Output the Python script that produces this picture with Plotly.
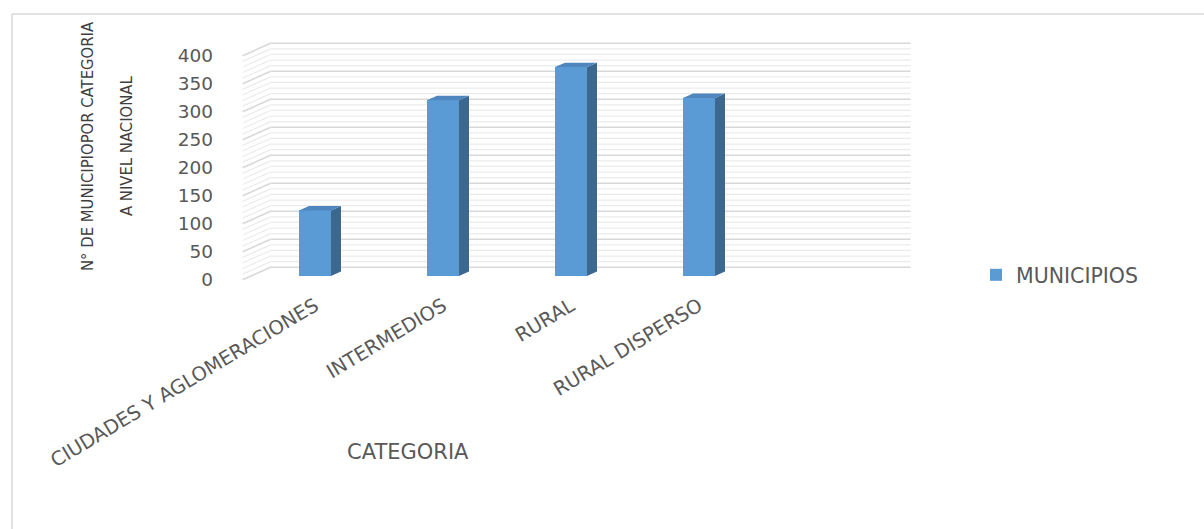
import plotly.graph_objects as go

# ---- data -------------------------------------------------------------
CATEGORIES = ["CIUDADES Y AGLOMERACIONES", "INTERMEDIOS", "RURAL", "RURAL DISPERSO"]
MUNICIPIOS = [117, 314, 373, 318]
SERIES_NAME = "MUNICIPIOS"
Y_TICKS = [0, 50, 100, 150, 200, 250, 300, 350, 400]
Y_MINOR_STEP = 10
X_TITLE = "CATEGORIA"
Y_TITLE_LINES = ["N° DE MUNICIPIOPOR CATEGORIA", "A NIVEL NACIONAL"]

# ---- figure / pseudo-3D geometry -------------------------------------
W, H = 1204, 529
PLOT_L, PLOT_R, PLOT_T, PLOT_B = 230, 930, 30, 290   # plot area in px
X0_PX, SLOT_PX = 315, 128          # px of first category, px per category
Y0_PX, PX_PER_UNIT = 276, 0.56     # px of value 0 on the bar plane, px per unit

DEPTH_DX_PX, DEPTH_DY_PX = 28, 12.5   # shift from front plane to back wall
D_BAR_FRONT = 0.3
D_BAR_BACK = D_BAR_FRONT + 10 / DEPTH_DX_PX
BAR_WIDTH = 0.25
N_SLOTS = 5

DX_PER_DEPTH = DEPTH_DX_PX / SLOT_PX
DV_PER_DEPTH = DEPTH_DY_PX / PX_PER_UNIT

X_RANGE = [(PLOT_L - X0_PX) / SLOT_PX, (PLOT_R - X0_PX) / SLOT_PX]
Y_RANGE = [(Y0_PX - PLOT_B) / PX_PER_UNIT, (Y0_PX - PLOT_T) / PX_PER_UNIT]

FRONT = "#5B9BD5"
TOP = "#4F86BD"
SIDE = "#3C6890"
TEXT = "#595959"
MAJOR_GRID = "#d9d9d9"
MINOR_GRID = "#ebebeb"
FONT = "DejaVu Sans, Liberation Sans, sans-serif"
NARROW = "Liberation Sans Narrow, DejaVu Sans Condensed, Arial Narrow, sans-serif"


def project(x, v, d):
    """Map a point (category x, value v, depth d) onto the 2D bar-plane axes."""
    return (x + (d - D_BAR_FRONT) * DX_PER_DEPTH,
            v + (d - D_BAR_FRONT) * DV_PER_DEPTH)


def fx(px):
    return px / W


def fy(py):
    return 1 - py / H


fig = go.Figure()

# front faces of the bars
positions = list(range(len(CATEGORIES)))
fig.add_trace(go.Bar(
    x=positions, y=MUNICIPIOS, width=BAR_WIDTH, name=SERIES_NAME,
    marker=dict(color=FRONT, line=dict(width=0)),
    customdata=CATEGORIES,
    hovertemplate="%{customdata}: %{y}<extra></extra>",
))

# side and top faces of the bars
for pos, val in zip(positions, MUNICIPIOS):
    r = pos + BAR_WIDTH / 2
    l = pos - BAR_WIDTH / 2
    side = [project(r, 0, D_BAR_FRONT), project(r, val, D_BAR_FRONT),
            project(r, val, D_BAR_BACK), project(r, 0, D_BAR_BACK)]
    top = [project(l, val, D_BAR_FRONT), project(r, val, D_BAR_FRONT),
           project(r, val, D_BAR_BACK), project(l, val, D_BAR_BACK)]
    for pts, col in ((side, SIDE), (top, TOP)):
        xs = [p[0] for p in pts] + [pts[0][0]]
        ys = [p[1] for p in pts] + [pts[0][1]]
        fig.add_trace(go.Scatter(
            x=xs, y=ys, mode="lines", fill="toself", fillcolor=col,
            line=dict(width=0, color=col), showlegend=False, hoverinfo="skip",
        ))

# carrier for the front-plane value axis
fig.add_trace(go.Scatter(x=[None], y=[None], yaxis="y2", showlegend=False,
                         hoverinfo="skip"))

# back wall and side wall gridlines
shapes = []
x_left, x_right = -0.5, -0.5 + N_SLOTS
for v in range(Y_TICKS[0], Y_TICKS[-1] + 1, Y_MINOR_STEP):
    major = v % (Y_TICKS[1] - Y_TICKS[0]) == 0
    style = dict(color=MAJOR_GRID if major else MINOR_GRID,
                 width=1.6 if major else 1.2)
    bx0, bv0 = project(x_left, v, 1)
    bx1, bv1 = project(x_right, v, 1)
    shapes.append(dict(type="line", xref="x", yref="y", x0=bx0, y0=bv0,
                       x1=bx1, y1=bv1, line=style, layer="below"))
    sx0, sv0 = project(x_left, v, 0)
    shapes.append(dict(type="line", xref="x", yref="y", x0=sx0, y0=sv0,
                       x1=bx0, y1=bv0, line=style, layer="below"))

# chart-area border (top and left edges)
shapes.append(dict(type="line", xref="paper", yref="paper", x0=fx(12), y0=fy(14),
                   x1=fx(W + 5), y1=fy(14), line=dict(color=MAJOR_GRID, width=1.5)))
shapes.append(dict(type="line", xref="paper", yref="paper", x0=fx(12), y0=fy(14),
                   x1=fx(12), y1=fy(H + 5), line=dict(color=MAJOR_GRID, width=1.5)))

annotations = [
    dict(text=X_TITLE, xref="paper", yref="paper", x=fx(408), y=fy(452),
         showarrow=False, font=dict(family=FONT, size=21, color=TEXT),
         xanchor="center", yanchor="middle"),
]
for line_text, px in zip(Y_TITLE_LINES, (88, 127)):
    annotations.append(dict(
        text=line_text, xref="paper", yref="paper", x=fx(px), y=fy(146),
        showarrow=False, textangle=-90, xanchor="center", yanchor="middle",
        font=dict(family=NARROW, size=16.5, color="#404040"),
    ))

front_shift = D_BAR_FRONT * DV_PER_DEPTH
fig.update_layout(
    width=W, height=H,
    margin=dict(l=0, r=0, t=0, b=0, autoexpand=False),
    paper_bgcolor="white", plot_bgcolor="rgba(0,0,0,0)",
    shapes=shapes, annotations=annotations,
    xaxis=dict(
        domain=[fx(PLOT_L), fx(PLOT_R)], range=X_RANGE, automargin=False,
        tickvals=positions, ticktext=CATEGORIES, tickangle=-31,
        tickfont=dict(family=FONT, size=19.5, color=TEXT),
        showgrid=False, zeroline=False, showline=False, ticks="",
        fixedrange=True,
    ),
    yaxis=dict(
        domain=[fy(PLOT_B), fy(PLOT_T)], range=Y_RANGE, automargin=False,
        showgrid=False, zeroline=False, showline=False,
        showticklabels=False, ticks="", fixedrange=True,
    ),
    yaxis2=dict(
        overlaying="y", anchor="x", side="left", automargin=False,
        range=[Y_RANGE[0] + front_shift, Y_RANGE[1] + front_shift],
        tickvals=Y_TICKS, ticks="", ticklabelstandoff=16,
        tickfont=dict(family=FONT, size=18.5, color=TEXT),
        showgrid=False, zeroline=False, showline=False, fixedrange=True,
    ),
    legend=dict(
        x=fx(976), y=fy(275), xanchor="left", yanchor="middle",
        font=dict(family=FONT, size=20.5, color=TEXT),
        bgcolor="rgba(0,0,0,0)",
    ),
    showlegend=True,
    bargap=0,
)

fig.write_html("out.html")
